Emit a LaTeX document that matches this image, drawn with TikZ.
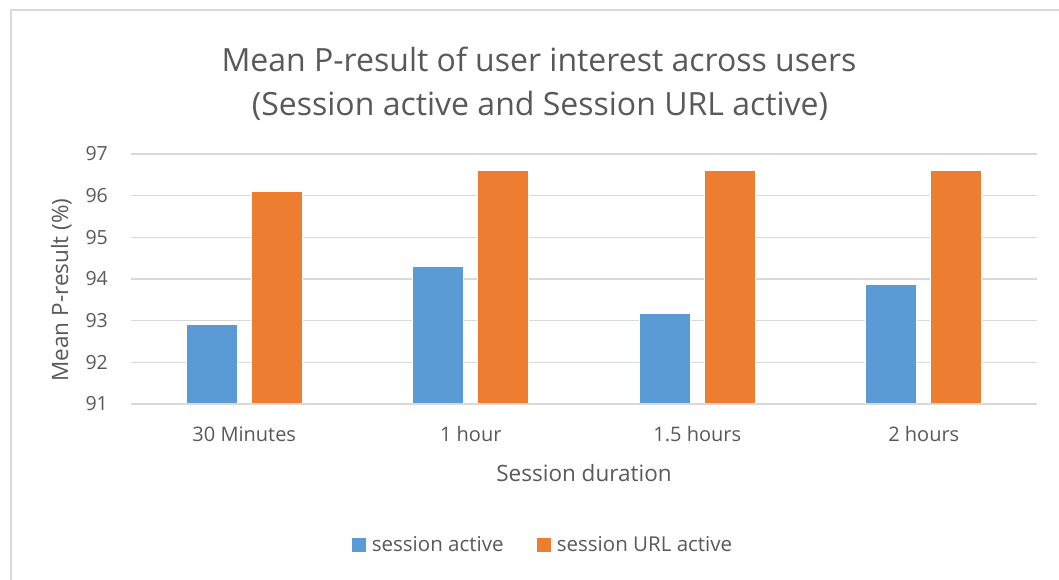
\documentclass[tikz,border=0pt]{standalone}
\usepackage{fontspec}
\setmainfont{Open Sans}
\definecolor{txt}{HTML}{595959}
\definecolor{gridc}{HTML}{D9D9D9}
\definecolor{sblue}{HTML}{5B9BD5}
\definecolor{sorange}{HTML}{ED7D31}
\begin{document}
\begin{tikzpicture}[x=1pt,y=-1pt,
  lbl/.style={text=txt, inner sep=0pt},
  ticklbl/.style={lbl, font=\fontsize{19.5}{23}\selectfont},
  catlbl/.style={lbl, font=\fontsize{20}{24}\selectfont},
  axtitle/.style={lbl, font=\fontsize{22.5}{27}\selectfont},
  ttl/.style={lbl, font=\fontsize{32}{38}\selectfont},
  leglbl/.style={lbl, font=\fontsize{20.5}{24}\selectfont},
  gridline/.style={draw=gridc, line width=1.3pt},
  bar/.style={draw=white, line width=0.6pt},
  keybox/.style={inner sep=0pt, minimum size=14pt}]
\useasboundingbox (0,0) rectangle (1059,580);
\clip (0,0) rectangle (1059,580);

% chart frame
\draw[draw=gridc, line width=1.5pt] (11,10) rectangle (1075,600);

% title
\node[ttl, anchor=base] (title1) at (539,71.7) {Mean P-result of user interest across users};
\node[ttl, anchor=base] (title2) at (540,116) {(Session active and Session URL active)};

% horizontal grid and value axis labels
\foreach \v in {91,...,97} {
  \pgfmathsetmacro\yy{404-(\v-91)*41.667}
  \draw[gridline] (131,\yy) -- (1037,\yy);
  \node[ticklbl, anchor=east] (tick\v) at (108,\yy) {\v};
}

% bars: category centre, session active, session URL active, label
\foreach \c/\a/\b/\name [count=\i] in {244.25/92.92/96.11/30 Minutes,
                                       470.75/94.31/96.6/1 hour,
                                       697.25/93.18/96.6/1.5 hours,
                                       923.75/93.88/96.6/2 hours} {
  \pgfmathsetmacro\ya{404-(\a-91)*41.667}
  \pgfmathsetmacro\yb{404-(\b-91)*41.667}
  \fill[sblue] (\c-58,404) rectangle (\c-7,\ya);
  \draw[bar] (\c-58,404) rectangle (\c-7,\ya);
  \fill[sorange] (\c+7,404) rectangle (\c+58,\yb);
  \draw[bar] (\c+7,404) rectangle (\c+58,\yb);
  \node[catlbl, anchor=base] (cat\i) at (\c,441.7) {\name};
}
% baseline axis drawn over bar bottoms
\draw[gridline] (131,404) -- (1037,404);

% axis titles
\node[axtitle, anchor=base] (xtitle) at (584,481.7) {Session duration};
\node[axtitle, anchor=base, rotate=90] (ytitle) at (68,290) {Mean P-result (\%)};

% legend
\node[keybox, fill=sblue] (key1) at (358.9,545.3) {};
\node[leglbl, anchor=base west] (leg1) at (371.7,551.7) {session active};
\node[keybox, fill=sorange] (key2) at (543.9,545.3) {};
\node[leglbl, anchor=base west] (leg2) at (556.7,551.7) {session URL active};
\end{tikzpicture}
\end{document}
